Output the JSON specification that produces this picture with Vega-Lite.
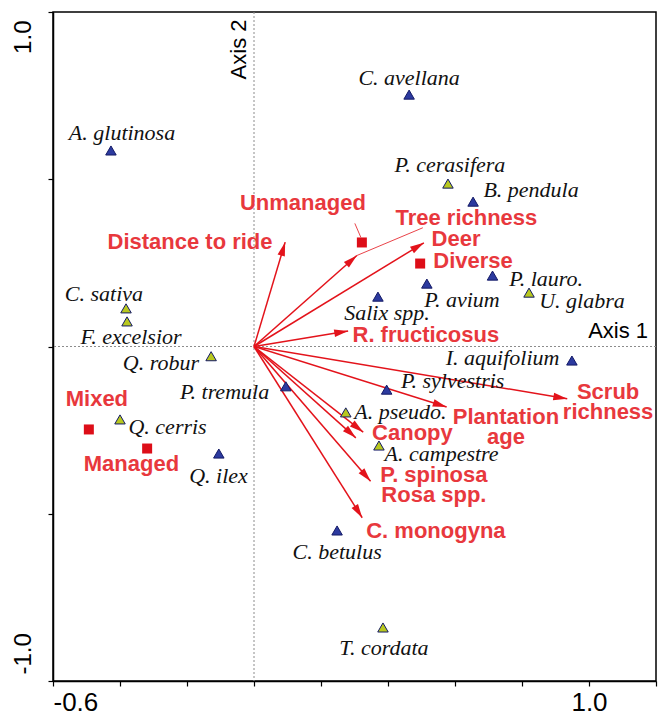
{
  "$schema": "https://vega.github.io/schema/vega-lite/v6.json",
  "width": 603,
  "height": 669,
  "autosize": {"type": "none"},
  "padding": {"left": 53, "top": 12, "right": 9, "bottom": 35},
  "config": {"view": {"stroke": "black", "strokeWidth": 1.5}, "font": "Liberation Sans"},
  "datasets": {
    "species": [
      {"name": "C. avellana", "group": "b", "x": 0.463, "y": 0.753, "lx": 0.463, "ly": 0.802},
      {"name": "A. glutinosa", "group": "b", "x": -0.427, "y": 0.586, "lx": -0.394, "ly": 0.637},
      {"name": "P. cerasifera", "group": "y", "x": 0.579, "y": 0.487, "lx": 0.585, "ly": 0.544},
      {"name": "B. pendula", "group": "b", "x": 0.654, "y": 0.433, "lx": 0.827, "ly": 0.469},
      {"name": "P. lauro.", "group": "b", "x": 0.712, "y": 0.212, "lx": 0.872, "ly": 0.203},
      {"name": "U. glabra", "group": "y", "x": 0.821, "y": 0.161, "lx": 0.979, "ly": 0.135},
      {"name": "P. avium", "group": "b", "x": 0.516, "y": 0.188, "lx": 0.621, "ly": 0.138},
      {"name": "Salix spp.", "group": "b", "x": 0.37, "y": 0.149, "lx": 0.397, "ly": 0.099},
      {"name": "C. sativa", "group": "y", "x": -0.382, "y": 0.114, "lx": -0.448, "ly": 0.158},
      {"name": "F. excelsior", "group": "y", "x": -0.379, "y": 0.075, "lx": -0.367, "ly": 0.027},
      {"name": "Q. robur", "group": "y", "x": -0.128, "y": -0.029, "lx": -0.278, "ly": -0.048},
      {"name": "P. tremula", "group": "b", "x": 0.095, "y": -0.119, "lx": -0.088, "ly": -0.135},
      {"name": "Q. cerris", "group": "y", "x": -0.4, "y": -0.218, "lx": -0.258, "ly": -0.242},
      {"name": "Q. ilex", "group": "b", "x": -0.105, "y": -0.32, "lx": -0.106, "ly": -0.386},
      {"name": "I. aquifolium", "group": "b", "x": 0.949, "y": -0.042, "lx": 0.742, "ly": -0.033},
      {"name": "P. sylvestris", "group": "b", "x": 0.396, "y": -0.129, "lx": 0.593, "ly": -0.102},
      {"name": "A. pseudo.", "group": "y", "x": 0.274, "y": -0.197, "lx": 0.437, "ly": -0.196},
      {"name": "A. campestre", "group": "y", "x": 0.373, "y": -0.296, "lx": 0.56, "ly": -0.32},
      {"name": "C. betulus", "group": "b", "x": 0.248, "y": -0.55, "lx": 0.248, "ly": -0.613},
      {"name": "T. cordata", "group": "y", "x": 0.385, "y": -0.84, "lx": 0.388, "ly": -0.9}
    ],
    "arrows": [
      {"name": "Distance to ride", "x": 0.093, "y": 0.312},
      {"name": "Tree richness", "x": 0.307, "y": 0.272},
      {"name": "Deer", "x": 0.507, "y": 0.31},
      {"name": "R. fructicosus", "x": 0.281, "y": 0.046},
      {"name": "Scrub richness", "x": 0.935, "y": -0.156},
      {"name": "Plantation age", "x": 0.575, "y": -0.181},
      {"name": "Canopy", "x": 0.326, "y": -0.256},
      {"name": "Rosa spp.", "x": 0.304, "y": -0.273},
      {"name": "P. spinosa", "x": 0.348, "y": -0.403},
      {"name": "C. monogyna", "x": 0.323, "y": -0.512}
    ],
    "classes": [
      {"name": "Unmanaged", "x": 0.322, "y": 0.311},
      {"name": "Diverse", "x": 0.496, "y": 0.248},
      {"name": "Mixed", "x": -0.493, "y": -0.248},
      {"name": "Managed", "x": -0.319, "y": -0.305}
    ],
    "leaders": [
      {"x": 0.301, "y": 0.368, "x2": 0.319, "y2": 0.326},
      {"x": 0.504, "y": 0.355, "x2": 0.307, "y2": 0.272}
    ],
    "redlabels": [
      {"label": "Distance to ride", "lx": -0.191, "ly": 0.311},
      {"label": "Unmanaged", "lx": 0.146, "ly": 0.428},
      {"label": "Tree richness", "lx": 0.634, "ly": 0.383},
      {"label": "Deer", "lx": 0.603, "ly": 0.32},
      {"label": "Diverse", "lx": 0.654, "ly": 0.257},
      {"label": "R. fructicosus", "lx": 0.513, "ly": 0.033},
      {"label": "Scrub\nrichness", "lx": 1.057, "ly": -0.135},
      {"label": "Plantation\nage", "lx": 0.752, "ly": -0.21},
      {"label": "Canopy", "lx": 0.473, "ly": -0.259},
      {"label": "P. spinosa\nRosa spp.", "lx": 0.537, "ly": -0.383},
      {"label": "C. monogyna", "lx": 0.543, "ly": -0.552},
      {"label": "Mixed", "lx": -0.469, "ly": -0.158},
      {"label": "Managed", "lx": -0.366, "ly": -0.35}
    ]
  },
  "layer": [
    {
      "data": {"name": "species"},
      "mark": {"type": "point", "opacity": 0},
      "encoding": {
        "x": {
          "field": "x", "type": "quantitative", "title": null,
          "scale": {"domain": [-0.6, 1.2], "nice": false, "zero": false},
          "axis": {
            "values": [-0.6, -0.4, -0.2, 0, 0.2, 0.4, 0.6, 0.8, 1.0, 1.2],
            "labelExpr": "datum.value == -0.6 ? '-0.6' : (datum.value == 1 ? '1.0' : '')",
            "title": null, "grid": false,
            "domainColor": "black", "domainWidth": 1.5,
            "tickColor": "black", "tickWidth": 1.2, "tickSize": 5,
            "labelFontSize": 26, "labelColor": "black", "labelFont": "Liberation Sans",
            "labelPadding": 3, "labelOverlap": false, "labelFlush": true
          }
        },
        "y": {
          "field": "y", "type": "quantitative", "title": null,
          "scale": {"domain": [-1, 1], "nice": false, "zero": false},
          "axis": {
            "values": [-1, -0.5, 0, 0.5, 1],
            "labelExpr": "datum.value == 1 ? '1.0' : (datum.value == -1 ? '-1.0' : '')",
            "title": null, "grid": false,
            "domainColor": "black", "domainWidth": 1.5,
            "tickColor": "black", "tickWidth": 1.2, "tickSize": 5,
            "labelFontSize": 24, "labelColor": "black", "labelFont": "Liberation Sans",
            "labelAngle": -90,
            "labelAlign": {"condition": {"test": "datum.value > 0", "value": "right"}, "value": "left"},
            "labelBaseline": "alphabetic",
            "labelOffset": {"condition": {"test": "datum.value > 0", "value": 8}, "value": -7},
            "labelPadding": 18, "labelOverlap": false, "labelFlush": false
          }
        }
      }
    },
    {
      "data": {"values": [{}]},
      "mark": {"type": "rule", "color": "#8c8c8c", "strokeDash": [2, 2], "strokeWidth": 1},
      "encoding": {"x": {"datum": 0, "type": "quantitative", "title": null}}
    },
    {
      "data": {"values": [{}]},
      "mark": {"type": "rule", "color": "#8c8c8c", "strokeDash": [2, 2], "strokeWidth": 1},
      "encoding": {"y": {"datum": 0, "type": "quantitative", "title": null}}
    },
    {
      "data": {"name": "arrows"},
      "mark": {"type": "rule", "color": "#E3131B", "strokeWidth": 1.5},
      "encoding": {
        "x": {"field": "x", "type": "quantitative", "title": null},
        "y": {"field": "y", "type": "quantitative", "title": null},
        "x2": {"datum": 0},
        "y2": {"datum": 0}
      }
    },
    {
      "data": {"name": "arrows"},
      "transform": [{"calculate": "atan2(datum.x, datum.y) * 180 / PI", "as": "angle"}],
      "mark": {"type": "point", "shape": "M0,0L-1.2,4.4L1.2,4.4Z", "filled": true, "color": "#E3131B", "opacity": 1, "size": 40},
      "encoding": {
        "x": {"field": "x", "type": "quantitative", "title": null},
        "y": {"field": "y", "type": "quantitative", "title": null},
        "angle": {"field": "angle", "type": "quantitative", "scale": null}
      }
    },
    {
      "data": {"name": "leaders"},
      "mark": {"type": "rule", "color": "#E3131B", "strokeWidth": 0.8},
      "encoding": {
        "x": {"field": "x", "type": "quantitative", "title": null},
        "y": {"field": "y", "type": "quantitative", "title": null},
        "x2": {"field": "x2"},
        "y2": {"field": "y2"}
      }
    },
    {
      "data": {"name": "classes"},
      "mark": {"type": "point", "shape": "square", "filled": true, "color": "#DD0E18", "opacity": 1, "size": 100},
      "encoding": {
        "x": {"field": "x", "type": "quantitative", "title": null},
        "y": {"field": "y", "type": "quantitative", "title": null}
      }
    },
    {
      "data": {"name": "species"},
      "mark": {"type": "point", "shape": "triangle-up", "filled": true, "stroke": "#141a66", "strokeWidth": 1, "opacity": 1, "size": 110},
      "encoding": {
        "x": {"field": "x", "type": "quantitative", "title": null},
        "y": {"field": "y", "type": "quantitative", "title": null},
        "fill": {"field": "group", "type": "nominal", "scale": {"domain": ["b", "y"], "range": ["#2C3A9F", "#B8C81F"]}, "legend": null}
      }
    },
    {
      "data": {"name": "species"},
      "mark": {"type": "text", "font": "Liberation Serif", "fontStyle": "italic", "fontSize": 22, "color": "#111111"},
      "encoding": {
        "x": {"field": "lx", "type": "quantitative", "title": null},
        "y": {"field": "ly", "type": "quantitative", "title": null},
        "text": {"field": "name"}
      }
    },
    {
      "data": {"name": "redlabels"},
      "mark": {"type": "text", "font": "Liberation Sans", "fontWeight": "bold", "fontSize": 22, "color": "#E8383D", "lineBreak": "\n", "lineHeight": 20},
      "encoding": {
        "x": {"field": "lx", "type": "quantitative", "title": null},
        "y": {"field": "ly", "type": "quantitative", "title": null},
        "text": {"field": "label"}
      }
    },
    {
      "data": {"values": [{"label": "Axis 1", "lx": 1.087, "ly": 0.045}]},
      "mark": {"type": "text", "font": "Liberation Sans", "fontSize": 22, "color": "black"},
      "encoding": {
        "x": {"field": "lx", "type": "quantitative", "title": null},
        "y": {"field": "ly", "type": "quantitative", "title": null},
        "text": {"field": "label"}
      }
    },
    {
      "data": {"values": [{"label": "Axis 2", "lx": -0.045, "ly": 0.888}]},
      "mark": {"type": "text", "font": "Liberation Sans", "fontSize": 22, "color": "black", "angle": -90},
      "encoding": {
        "x": {"field": "lx", "type": "quantitative", "title": null},
        "y": {"field": "ly", "type": "quantitative", "title": null},
        "text": {"field": "label"}
      }
    }
  ]
}
